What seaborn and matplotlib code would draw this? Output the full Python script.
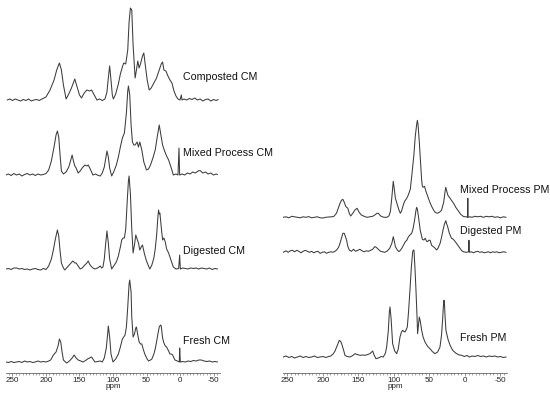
import numpy as np
import matplotlib
matplotlib.use("Agg")
import matplotlib.pyplot as plt
from matplotlib.ticker import MultipleLocator
import seaborn as sns

# 13C CP-MAS NMR spectra, intensity (px above baseline)
composted_cm_ppm = [258, 254, 250, 246, 242, 238, 234, 230, 226, 222, 218, 214, 210, 206, 200, 194, 188, 184, 180, 177, 174, 170,
                    166, 162, 157, 154, 150, 147, 143, 139, 135, 132, 128, 124, 120, 116, 112, 109, 107, 105, 103, 101, 99.5,
                    96, 92, 89, 86, 84, 81, 78, 76, 74, 72, 70, 67, 65, 63, 61, 59, 56, 54, 52, 49, 46, 43, 39, 35, 31, 28, 26,
                    24, 21, 18, 15, 12, 9, 6, 3, 0, -2, -3, -6, -10, -14, -18, -22, -26, -30, -34, -38, -42, -46, -50, -54, -57]
composted_cm_int = [0, 1, -0.5, 1, 0, -1, 0.5, -0.5, 1, -1, 0, 0.5, -0.5, 1, 3, 10, 20, 30, 37, 30, 15, 1,
                    6, 12, 21, 14, 5, 2, 7, 10, 9, 10, 5, 0, 1, -0.5, 1, 8, 22, 34, 20, 5, 1,
                    6, 16, 26, 33, 37, 36, 50, 78, 92, 90, 55, 22, 30, 39, 32, 36, 44, 47, 36, 20, 10, 12, 17, 22, 30, 36, 38,
                    30, 29, 24, 20, 17, 9, 4, 1, 0, 5, 0, 1, 0, 1.5, 0.5, 2, 0, 1, -1, 0.5, 1, -1, 0.5, -0.5, 0.5]

mixed_cm_ppm = [260, 256, 252, 248, 244, 240, 236, 232, 228, 224, 220, 216, 212, 208, 204, 200, 196, 192, 188, 185, 183, 181, 179,
                177, 174, 170, 166, 163, 161, 159, 157, 155, 152, 149, 146, 142, 139, 137, 134, 130, 126, 122, 119, 116, 113,
                111, 109, 107, 105, 102, 99, 95, 92, 89, 86, 83, 80, 78, 77, 75, 73, 71, 69, 67, 64, 62, 60, 57, 54, 50, 47,
                44, 40, 37, 34, 31, 29, 26, 23, 20, 17, 13, 10, 6, 3, 1.5, 0.5, -3, -7, -11, -15, -19, -23, -27, -30, -34,
                -38, -42, -46, -50, -54, -56]
mixed_cm_int = [0, 1, -0.5, 1.5, 0, 1, -1, 0.5, 1.5, 0, 1, -0.5, 1, 0, 0.5, 1.5, 5, 14, 28, 40, 44, 38, 20,
                4, 1, 3, 8, 15, 20, 14, 9, 7, 2, 4, 7, 10, 9, 10, 6, 0, 1, -0.5, -1, 2, 8,
                16, 24, 18, 7, -1, 3, 10, 18, 28, 37, 42, 62, 84, 89, 80, 50, 33, 30, 30, 33, 28, 33, 25, 13, 5, 6,
                10, 18, 25, 38, 50, 42, 30, 24, 19, 15, 7, 0, 1, 0, 27, 0, 1, 0, 2, 1, 3, 2, 4, 4.5, 2,
                3, 1, 2, 0, 1, 0.5]

digested_cm_ppm = [260, 256, 252, 248, 244, 240, 236, 232, 228, 224, 220, 216, 212, 208, 204, 200, 196, 192, 189, 186, 183, 181,
                   179, 177, 174, 172, 168, 164, 160, 157, 155, 152, 149, 146, 142, 139, 137, 135, 133, 130, 127, 123, 119,
                   117, 115, 113, 111, 109, 107, 105, 102, 99, 95, 92, 89, 87, 85, 83, 81, 79, 77, 76, 74, 72, 70, 68, 66,
                   64, 62, 60, 58, 56, 53, 50, 47, 45, 42, 39, 37, 35, 33, 32, 31, 30, 28, 26, 24, 22, 20, 17, 14, 10, 6, 2,
                   0.5, -0.5, -4, -8, -12, -16, -20, -24, -28, -32, -36, -40, -44, -48, -52, -56]
digested_cm_int = [0, 0.5, -0.5, 1, 1, 0, 0.5, -0.5, 0, -1, 0, 0.5, -0.5, -1, 0.5, -0.5, 3, 10, 19, 30, 39, 33,
                   18, 6, 1, -1, 2, 5, 8, 6, 6, 3, 0, 1, 4, 6, 8, 5, 3, 1, 0, 1, 3,
                   1, 2, 10, 25, 38, 26, 10, 0, 3, 7, 13, 22, 29, 31, 31, 40, 65, 88, 93, 75, 40, 16, 24, 34,
                   30, 26, 19, 22, 24, 15, 8, 3, 0, 4, 11, 20, 33, 52, 59, 55, 56, 42, 29, 31, 27, 20, 16, 10, 2, 0, 0.5,
                   14, 0, 1, 0.5, 0, 1, 0.5, 1, 0, 1, 0.5, 0, 1, -0.5, 0.5, 0]

fresh_cm_ppm = [260, 256, 252, 248, 244, 240, 236, 232, 228, 224, 220, 216, 212, 208, 204, 200, 196, 193, 189, 185, 182, 180,
                178, 176, 174, 171, 169, 165, 161, 158, 155, 152, 148, 145, 142, 138, 135, 132, 129, 127, 123, 119, 116,
                113, 110, 108, 107, 105, 103, 100, 96, 92, 89, 86, 84, 82, 80, 78, 76, 75, 73, 72, 70, 68, 66, 65, 63, 61,
                59, 57, 55, 52, 49, 47, 44, 42, 39, 37, 35, 33, 31, 29, 28, 26, 24, 22, 20, 17, 15, 13, 11, 9, 7.5, 4, 1,
                0.5, -0.5, -4, -8, -12, -16, -20, -24, -28, -32, -36, -40, -44, -48, -52, -56]
fresh_cm_int = [0, -0.5, 0.5, -0.5, 0, 0.5, -0.5, 1, 0, 0.5, -0.5, 0, 1, 0, 0.5, 0, 1, 2, 7, 10, 16, 23,
                20, 10, 2, 0, -1, 1, 4, 7, 4, 2, 1, 0, 1, 3, 4, 5, 2, 0, 0.5, 1, 0,
                4, 14, 28, 36, 25, 8, 0, 3, 8, 15, 23, 25, 27, 35, 55, 78, 82, 70, 45, 25, 28, 34, 35, 27, 20,
                18, 18, 13, 7, 3, 1, 2, 3, 8, 13, 20, 28, 35, 37, 36, 24, 19, 16, 15, 11, 8, 8, 7, 4, 2, 1, 0,
                14, 0, 0.5, 0, 1, 0.5, 1.5, 1, 2, 2, 1, 0.5, 1, 0, 0.5, 0]

mixed_pm_ppm = [256, 252, 248, 244, 240, 236, 232, 228, 224, 220, 216, 212, 208, 204, 200, 196, 192, 188, 185, 181, 178, 176,
                174, 172, 170, 168, 165, 163, 161, 158, 155, 152, 149, 146, 142, 138, 134, 130, 127, 124, 122, 119, 117, 114,
                110, 107, 105, 103, 101, 99.5, 98, 95, 93, 91, 89, 87, 85, 82, 80, 79, 77, 75, 72, 70, 68, 67, 66, 64, 63,
                61, 60, 59, 57, 55, 52, 50, 47, 44, 42, 39, 36, 33, 30, 28, 27, 26, 24, 22, 21, 19, 16, 13, 9, 6, 2, -2,
                -3.5, -4, -4.5, -7, -10, -14, -18, -22, -26, -30, -34, -38, -42, -46, -50, -54, -58]
mixed_pm_int = [0, 0.5, -0.5, 1, 0.5, 0, -0.5, 0.5, 0, 0.7, -0.5, 0, 0.5, -0.5, -0.7, 0, 0.3, 0.5, 0.7, 4, 10, 14,
                17, 18, 15, 11, 9, 4, 1.3, 4, 7.3, 9, 5, 2.3, 1, 0, 0.5, 1, 2.3, 4, 4, 1.5, 0.7, 0,
                0, 1.5, 6, 20, 36, 28, 19, 12, 7.3, 4, 7, 12, 16, 19, 22, 24, 28, 41, 62, 81, 93, 97, 92, 72, 60,
                37, 31, 30, 31, 26, 20, 16, 11, 7, 5, 4, 5, 7, 15, 26, 30, 27, 22, 20, 19, 17, 14, 10, 6, 3, 0.7, 0.5,
                0, 19, 0, 0.5, 0, 1, 0.5, 1, 0, 1, 0.5, 1, 0, 0.5, -0.5, 0.5, 0]

digested_pm_ppm = [256, 252, 249, 246, 243, 240, 237, 234, 231, 228, 225, 222, 219, 216, 213, 210, 207, 204, 201, 198, 195, 192,
                   189, 186, 183, 180.8, 178, 176, 174, 172, 170, 168, 166.7, 165, 163, 160, 157, 154, 151, 148, 145, 142,
                   139, 136, 133.8, 130, 127, 125, 122, 119, 116, 113, 110, 106, 103, 101, 99.5, 98, 95, 93, 91, 89, 86, 84,
                   82, 80, 78, 75, 73, 71, 69, 68, 67, 65, 63, 62, 60, 58, 56, 54, 52.6, 51, 49, 47, 44.6, 42, 40, 38, 35,
                   33, 31, 29, 27, 26, 24.4, 22, 21, 19, 16.4, 13, 10.3, 7, 4.7, 2, -2, -5, -5.6, -6.2, -9, -12, -15, -18,
                   -21, -24, -27, -30, -33, -36, -39, -42, -45, -48, -51, -54, -58]
digested_pm_int = [0, 1.5, 0, 1.5, 2, 0.5, 2, 1, -0.5, 1, 2, 1, 0, 1, -0.5, 0.5, 1, -1, 0, 0.5, -1, 0,
                   0.5, 0, 1, 2.3, 5, 9, 14, 19, 19, 15, 12, 6, 2.3, 1, 3, 1, 2, 3, 1.5, 0.5,
                   1.5, 1, 1.7, 3, 5.7, 5, 3, 1, 0.5, 0, 1, 4, 9, 15.6, 11, 5.7, 2, 0.7, 2, 4, 8, 10.6,
                   12, 15, 17, 19, 24, 32, 42, 45, 43, 33, 22, 19, 13, 12.3, 14, 11, 10.7, 12, 12, 7, 5.7, 4, 2.3, 4, 9,
                   15, 22, 28, 31.6, 29, 25.7, 19, 17.3, 14, 13, 10, 7.3, 4, 1.7, 0.5, 0, 0.5, 12, 0, 0.5, -0.5, 0.5, 1,
                   0, 0.5, -0.5, 0, 0.5, -0.5, 0.5, 0, 0.5, -0.5, 0, 0.5, 0]

fresh_pm_ppm = [256, 252, 248, 244, 240, 236, 232, 228, 224, 220, 216, 212, 208, 204, 200, 196, 192, 189, 185.4, 183, 180.8,
                179, 177, 175, 173.7, 171, 169, 166, 162, 158, 155, 152, 148, 144, 140.8, 137, 133.8, 130, 128, 125.4, 122,
                118, 115, 112, 110.3, 108, 106.5, 105.6, 104, 101.9, 99, 96.2, 94, 91.5, 89.5, 87.8, 86, 84.5, 83, 81.2,
                79.5, 77.5, 75.5, 73.7, 72.7, 71.8, 70.5, 69, 67.5, 66.7, 65.5, 64.3, 63, 61, 59, 56.3, 53, 49.3, 46, 42.3,
                38.5, 35.2, 33, 31.4, 30.5, 29.6, 29, 28, 26.8, 25, 23.5, 20.5, 17.3, 14, 11.7, 8, 4.6, 1, -3, -6, -10,
                -14, -18, -22, -26, -30, -34, -38, -42, -46, -50, -54, -58]
fresh_pm_int = [0, 1, -0.5, 0.5, -1, 0, 1, -0.5, 0.5, -0.5, 0, 1, -0.5, 0, 0.5, -0.5, 0.5, 1, 3.3, 6, 10,
                13, 16.7, 15.5, 13.3, 7, 1.7, 0.5, 0, 1.5, 3.3, 2.5, 1.7, 2, 1.7, 2.5, 3.3, 6, 2, -1.7, -1,
                0.5, 0, 4, 10, 26, 45, 50, 38, 13.3, 6, 3.3, 8, 20, 25, 26.7, 25.5, 25, 27, 30,
                45, 66.7, 90, 105, 107, 106.7, 90, 66.7, 40, 23.3, 32, 40, 36, 26.7, 20, 15, 11, 8.3, 5.5, 3.3,
                5, 10, 22, 38.3, 50, 56.7, 55, 40, 26.7, 21, 16.7, 11, 6.7, 4.5, 3.3, 2, 1.7, 0.5, 1.5, 0, 1,
                0.5, 1.5, 0.5, 1, 0, 1, 0.5, 1, 0, 0.5, -0.5, 0]

left_names = ["Composted CM", "Mixed Process CM", "Digested CM", "Fresh CM"]
right_names = ["Mixed Process PM", "Digested PM", "Fresh PM"]
major_ticks = [250, 200, 150, 100, 50, 0, -50]

sns.set_style("ticks")
plt.rcParams["font.family"] = ["Liberation Sans", "DejaVu Sans"]

fig = plt.figure(figsize=(5.5, 3.96), dpi=100)
ax1 = fig.add_axes([6 / 550, 23 / 396, 214 / 550, 373 / 396])
ax2 = fig.add_axes([283 / 550, 23 / 396, 224 / 550, 373 / 396])

line_kw = dict(color="#3c3c3c", linewidth=0.75, estimator=None, sort=False, legend=False)

left_sets = [(composted_cm_ppm, composted_cm_int, 273, 296),
             (mixed_cm_ppm, mixed_cm_int, 198, 220),
             (digested_cm_ppm, digested_cm_int, 104, 122),
             (fresh_cm_ppm, fresh_cm_int, 11, 32)]
for (ppm, inten, base, ylab), name in zip(left_sets, left_names):
    sns.lineplot(x=ppm, y=np.array(inten) + base, ax=ax1, **line_kw)
    ax1.text(-4.5, ylab, name, fontsize=7.7, va="center", ha="left", color="#111")

right_sets = [(mixed_pm_ppm, mixed_pm_int, 155.7, 183),
              (digested_pm_ppm, digested_pm_int, 120.7, 142),
              (fresh_pm_ppm, fresh_pm_int, 16, 35)]
for (ppm, inten, base, ylab), name in zip(right_sets, right_names):
    sns.lineplot(x=ppm, y=np.array(inten) + base, ax=ax2, **line_kw)
    ax2.text(7, ylab, name, fontsize=7.7, va="center", ha="left", color="#111")

ax1.set_xlim(259.7, -59.7)
ax2.set_xlim(256.3, -59.2)
for ax in (ax1, ax2):
    ax.set_ylim(0, 373)
    sns.despine(ax=ax, left=True)
    ax.set_yticks([])
    ax.set_xticks(major_ticks)
    ax.set_xticklabels([str(t) for t in major_ticks])
    ax.xaxis.set_minor_locator(MultipleLocator(5))
    ax.tick_params(axis="x", which="major", length=2.5, width=0.5, labelsize=5.8, pad=0.5,
                   color="#666", labelcolor="#222")
    ax.tick_params(axis="x", which="minor", length=1.5, width=0.4, color="#666")
    ax.spines["bottom"].set_linewidth(0.6)
    ax.spines["bottom"].set_color("#666")
    ax.set_xlabel("ppm", fontsize=5.8, labelpad=-0.5, color="#222")
    ax.set_ylabel("")
    ax.patch.set_alpha(0)

fig.savefig("out.png", dpi=100)
